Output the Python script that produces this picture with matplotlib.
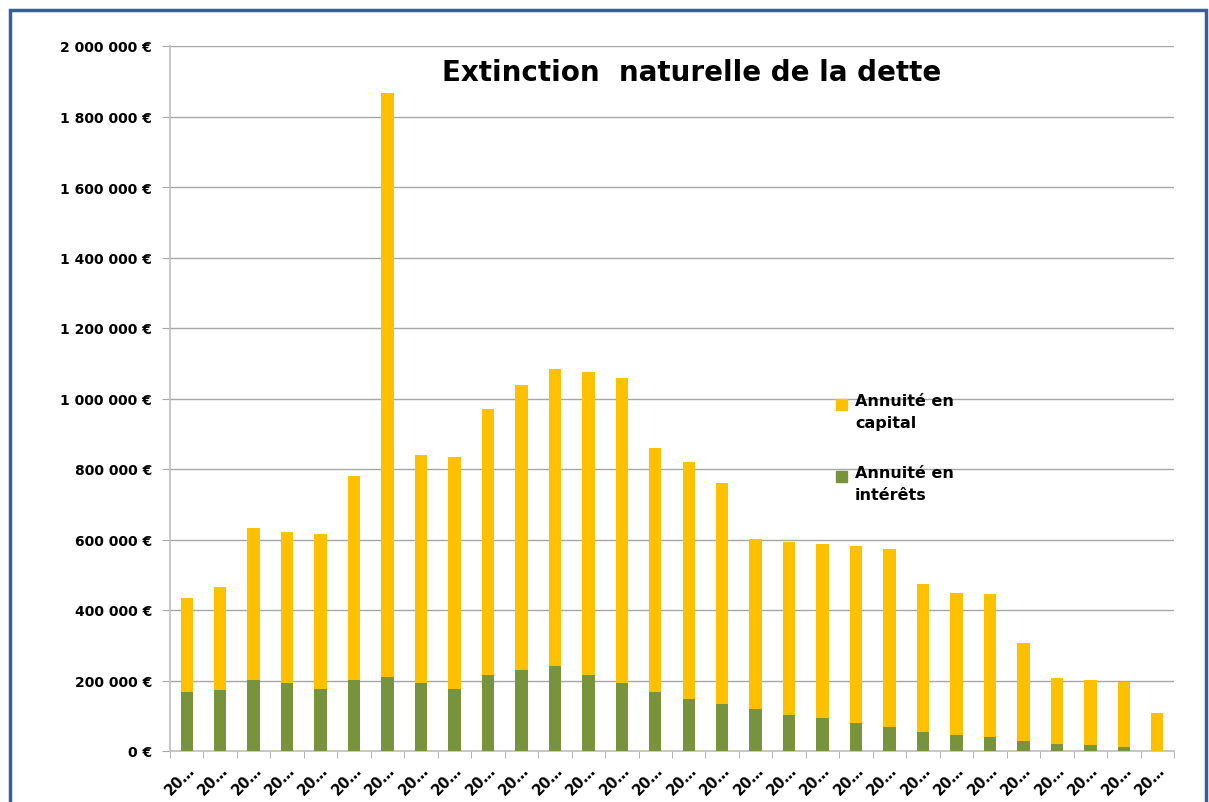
import numpy as np
import matplotlib
matplotlib.use("Agg")
import matplotlib.pyplot as plt
from matplotlib.patches import Rectangle

# valeurs (en euros)
interets = [167e3, 173e3, 202e3, 192e3, 177e3, 202e3, 210e3, 192e3, 177e3, 216e3,
            230e3, 241e3, 216e3, 192e3, 167e3, 147e3, 132e3, 118e3, 103e3, 93e3,
            79e3, 69e3, 54e3, 44e3, 40e3, 29e3, 20e3, 16e3, 10e3, 0]
totaux = [434e3, 465e3, 632e3, 622e3, 617e3, 781e3, 1866e3, 840e3, 835e3, 971e3,
          1039e3, 1083e3, 1074e3, 1059e3, 859e3, 819e3, 759e3, 602e3, 593e3, 588e3,
          582e3, 573e3, 474e3, 449e3, 444e3, 305e3, 207e3, 202e3, 196e3, 108e3]
capital = [t - i for t, i in zip(totaux, interets)]
annees = ["20\u2026"] * len(totaux)
yticks = np.arange(0, 2000001, 200000)

JAUNE = "#FFC000"
VERT = "#77933C"
GRIS = "#A6A6A6"

plt.rcParams['font.family'] = ['DejaVu Sans']

fig = plt.figure(figsize=(12.09, 8.03), dpi=100)
ax = fig.add_axes([170 / 1209, 1 - 752 / 803, (1174 - 170) / 1209, (752 - 47) / 803])

x = np.arange(len(totaux))
ax.bar(x, interets, width=0.37, color=VERT, zorder=3)
ax.bar(x, capital, width=0.37, bottom=interets, color=JAUNE, zorder=3)

ax.set_xlim(-0.5, len(totaux) - 0.5)
ax.set_ylim(0, 2000000)

def euro(v):
    if v == 0:
        return "0 \u20ac"
    return "{:,.0f} \u20ac".format(v).replace(",", " ")

ax.set_yticks(yticks)
ax.set_yticklabels([euro(v) for v in yticks], fontsize=10, fontweight='bold')
ax.tick_params(axis='y', length=6, color=GRIS, pad=7)
ax.yaxis.grid(True, color=GRIS, linewidth=1.0, zorder=0)

ax.set_xticks(x)
ax.set_xticklabels(annees, rotation=45, ha='right', rotation_mode='anchor',
                   fontsize=10.5, fontweight='bold')
ax.set_xticks(np.arange(-0.5, len(totaux), 1.0), minor=True)
ax.tick_params(axis='x', which='major', length=0, pad=8)
ax.tick_params(axis='x', which='minor', length=5, color=GRIS)

for s in ['top', 'right']:
    ax.spines[s].set_visible(False)
for s in ['left', 'bottom']:
    ax.spines[s].set_color("#BFBFBF")
    ax.spines[s].set_linewidth(1.2)

fig.text(692 / 1209, 1 - 73 / 803, "Extinction  naturelle de la dette",
         ha='center', va='center', fontsize=20, fontweight='bold')

# légende (carré aligné sur la première ligne)
legende = [(JAUNE, "Annuité en\ncapital", 398), (VERT, "Annuité en\nintérêts", 470)]
for couleur, texte, ytop in legende:
    fig.patches.append(Rectangle((836 / 1209, 1 - (ytop + 13) / 803), 11 / 1209, 11 / 803,
                                 transform=fig.transFigure, color=couleur))
    fig.text(855 / 1209, 1 - (ytop - 4) / 803, texte, ha='left', va='top',
             fontsize=11.5, fontweight='bold', linespacing=1.55)

# cadre bleu
fig.patches.append(Rectangle((10 / 1209, -0.05), 1196 / 1209, 1.05 - 11 / 803,
                             transform=fig.transFigure, fill=False,
                             edgecolor="#3B5F91", linewidth=2.5))

fig.savefig("out.png", dpi=100)
